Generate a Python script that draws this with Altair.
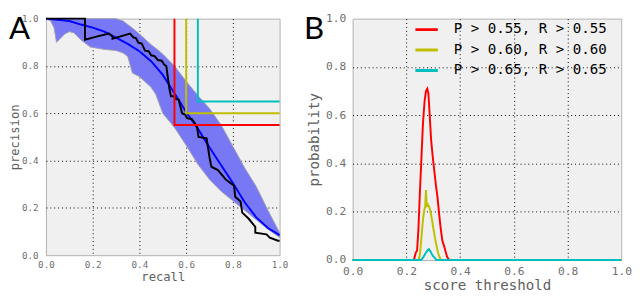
import altair as alt
import pandas as pd

MONO = "DejaVu Sans Mono"

# ---------------- Panel A data ----------------
band_recall = [0.0, 0.02, 0.035, 0.045, 0.06, 0.08, 0.10, 0.12, 0.15, 0.19, 0.22, 0.25, 0.30, 0.33,
               0.35, 0.37, 0.40, 0.45, 0.47, 0.50, 0.55, 0.60, 0.65, 0.70, 0.75, 0.80, 0.85, 0.90, 0.95, 1.0]
band_lower = [1.0, 0.99, 0.96, 0.90, 0.915, 0.935, 0.945, 0.94, 0.91, 0.88, 0.875, 0.87, 0.865, 0.855,
              0.84, 0.77, 0.755, 0.71, 0.68, 0.60, 0.54, 0.465, 0.385, 0.32, 0.27, 0.23, 0.19, 0.15, 0.11, 0.075]
band_upper = [1.0, 1.0, 1.0, 1.0, 1.0, 1.0, 1.0, 1.0, 1.0, 1.0, 1.0, 1.0, 1.0, 0.99,
              0.975, 0.96, 0.935, 0.89, 0.875, 0.85, 0.80, 0.735, 0.675, 0.62, 0.55, 0.46, 0.37, 0.29, 0.19, 0.095]

mean_recall = [0.0, 0.05, 0.10, 0.15, 0.20, 0.25, 0.30, 0.35, 0.40, 0.45, 0.50, 0.55, 0.60, 0.65,
               0.70, 0.75, 0.80, 0.85, 0.90, 0.95, 1.0]
mean_precision = [1.0, 0.995, 0.99, 0.975, 0.962, 0.945, 0.92, 0.893, 0.862, 0.82, 0.762, 0.685, 0.605,
                  0.535, 0.455, 0.38, 0.305, 0.225, 0.16, 0.115, 0.085]

pr_recall = [0.0, 0.167, 0.167, 0.22, 0.27, 0.285, 0.285, 0.33, 0.36, 0.375, 0.385, 0.396, 0.41, 0.424,
             0.44, 0.45, 0.465, 0.479, 0.495, 0.507, 0.515, 0.528, 0.535, 0.548, 0.556, 0.568, 0.576,
             0.583, 0.596, 0.604, 0.625, 0.646, 0.653, 0.6875, 0.70, 0.708, 0.736, 0.77, 0.805, 0.81,
             0.833, 0.84, 0.867, 0.896, 0.896, 0.944, 0.958, 0.993, 1.0]
pr_precision = [1.0, 1.0, 0.911, 0.925, 0.937, 0.925, 0.915, 0.928, 0.937, 0.92, 0.918, 0.898, 0.895, 0.865,
                0.862, 0.845, 0.842, 0.825, 0.822, 0.805, 0.80, 0.705, 0.672, 0.672, 0.66, 0.658, 0.625,
                0.599, 0.595, 0.579, 0.575, 0.546, 0.50, 0.494, 0.414, 0.374, 0.36, 0.32, 0.294, 0.247,
                0.227, 0.18, 0.155, 0.12, 0.095, 0.088, 0.074, 0.061, 0.061]

thresholds = [0.55, 0.60, 0.65]
series_labels = ["P > 0.55, R > 0.55", "P > 0.60, R > 0.60", "P > 0.65, R > 0.65"]
series_colors = ["#ff0000", "#bfbf00", "#00bfbf"]

# ---------------- Panel B data ----------------
red_t = [0.0, 0.22, 0.228, 0.235, 0.24, 0.245, 0.25, 0.256, 0.262, 0.268, 0.273, 0.278, 0.282, 0.287,
         0.292, 0.298, 0.304, 0.31, 0.316, 0.322, 0.328, 0.334, 0.34, 0.346, 0.352, 0.36, 1.0]
red_p = [0.0, 0.0, 0.0, 0.03, 0.04, 0.13, 0.27, 0.42, 0.57, 0.66, 0.70, 0.71, 0.69, 0.60,
         0.50, 0.43, 0.37, 0.31, 0.26, 0.19, 0.13, 0.08, 0.06, 0.035, 0.012, 0.0, 0.0]
yel_t = [0.0, 0.245, 0.25, 0.256, 0.262, 0.267, 0.27, 0.273, 0.276, 0.28, 0.285, 0.29, 0.295, 0.30,
         0.306, 0.312, 0.318, 0.325, 0.33, 1.0]
yel_p = [0.0, 0.0, 0.02, 0.09, 0.17, 0.21, 0.22, 0.29, 0.22, 0.23, 0.22, 0.20, 0.17, 0.135,
         0.095, 0.06, 0.03, 0.008, 0.0, 0.0]
cyan_t = [0.0, 0.255, 0.262, 0.27, 0.278, 0.284, 0.29, 0.297, 0.305, 0.312, 1.0]
cyan_p = [0.0, 0.0, 0.01, 0.025, 0.04, 0.045, 0.035, 0.02, 0.01, 0.0, 0.0]

ticks = [0.0, 0.2, 0.4, 0.6, 0.8, 1.0]

# ---------------- tables ----------------
band_df = pd.DataFrame({"recall": band_recall, "lo": band_lower, "hi": band_upper})
mean_df = pd.DataFrame({"recall": mean_recall, "precision": mean_precision})
pr_df = pd.DataFrame({"recall": pr_recall, "precision": pr_precision, "i": range(len(pr_recall))})
thr_rows = []
for t, lab in zip(thresholds, series_labels):
    for i, (r, p) in enumerate([(t, 1.0), (t, t), (1.0, t)]):
        thr_rows.append({"recall": r, "precision": p, "series": lab, "i": i})
thr_df = pd.DataFrame(thr_rows)

b_rows = []
for lab, ts, ps in zip(series_labels, [red_t, yel_t, cyan_t], [red_p, yel_p, cyan_p]):
    for i, (t, p) in enumerate(zip(ts, ps)):
        b_rows.append({"score": t, "prob": p, "series": lab, "i": i})
b_df = pd.DataFrame(b_rows)

grid_op = {"condition": {"test": "datum.value <= 0 || datum.value >= 1", "value": 0}, "value": 1}


def mk_axis(title, lab_size, title_size, lab_pad, title_pad):
    return alt.Axis(title=title, values=ticks, format=".1f", labelFont=MONO, labelFontSize=lab_size,
                    labelColor="#707070", titleFont=MONO, titleFontSize=title_size, titleColor="#606060",
                    titleFontWeight="normal", ticks=False, domain=False, grid=True, gridColor="#000000",
                    gridDash=[1, 3], gridWidth=1, gridOpacity=grid_op, labelPadding=lab_pad,
                    titlePadding=title_pad, labelFlush=False, labelOverlap=False)


xa = alt.Scale(domain=[0, 1], nice=False)
ya = alt.Scale(domain=[0, 1], nice=False)

ax_xA = mk_axis("recall", 9.5, 12.5, 5, 2)
ax_yA = mk_axis("precision", 9.5, 12.5, 8, 0)

band = alt.Chart(band_df).mark_area(color="#7878f5", opacity=1, stroke="#a0a0b0", strokeWidth=1).encode(
    x=alt.X("recall:Q", scale=xa, axis=ax_xA),
    y=alt.Y("lo:Q", scale=ya, axis=ax_yA),
    y2="hi:Q",
)
mean_line = alt.Chart(mean_df).mark_line(color="#0000ff", strokeWidth=2).encode(
    x="recall:Q", y="precision:Q")
pr_line = alt.Chart(pr_df).mark_line(color="#000000", strokeWidth=2).encode(
    x="recall:Q", y="precision:Q", order="i:Q")
thr_lines = alt.Chart(thr_df).mark_line(strokeWidth=2).encode(
    x="recall:Q", y="precision:Q", order="i:Q",
    color=alt.Color("series:N", scale=alt.Scale(domain=series_labels, range=series_colors), legend=None))
label_a = alt.Chart(pd.DataFrame({"t": ["A"]})).mark_text(
    font="Lato", fontSize=32, align="left", baseline="top", color="black").encode(
    text="t:N", x=alt.value(-38), y=alt.value(-4))

panel_a = alt.layer(band, mean_line, pr_line, thr_lines, label_a).properties(width=240, height=243)

ax_xB = mk_axis("score threshold", 11.5, 14.5, 6, 2)
ax_yB = mk_axis("probability", 11.5, 14.5, 7, 4)

b_lines = alt.Chart(b_df).mark_line(strokeWidth=2).encode(
    x=alt.X("score:Q", scale=xa, axis=ax_xB),
    y=alt.Y("prob:Q", scale=ya, axis=ax_yB),
    order="i:Q",
    color=alt.Color("series:N", scale=alt.Scale(domain=series_labels, range=series_colors),
                    legend=alt.Legend(orient="none", legendX=63, legendY=1, title=None, labelFont=MONO,
                                      labelFontSize=14.5, labelColor="#000000", symbolType="stroke",
                                      symbolSize=529, symbolStrokeWidth=3, labelOffset=15,
                                      clipHeight=20.5, rowPadding=0, padding=0, labelLimit=400)),
)
label_b = alt.Chart(pd.DataFrame({"t": ["B"]})).mark_text(
    font="Lato", fontSize=32, align="left", baseline="top", color="black").encode(
    text="t:N", x=alt.value(-50), y=alt.value(-4))

panel_b = alt.layer(b_lines, label_b).properties(width=276, height=248)

chart = alt.hconcat(panel_a, panel_b, spacing=14).resolve_scale(color="independent").configure_view(
    fill="#f0f0f0", stroke="#b0b0b0", strokeWidth=1).properties(padding=0)

chart.save("out.html", embed_options={"renderer": "svg", "actions": False})
